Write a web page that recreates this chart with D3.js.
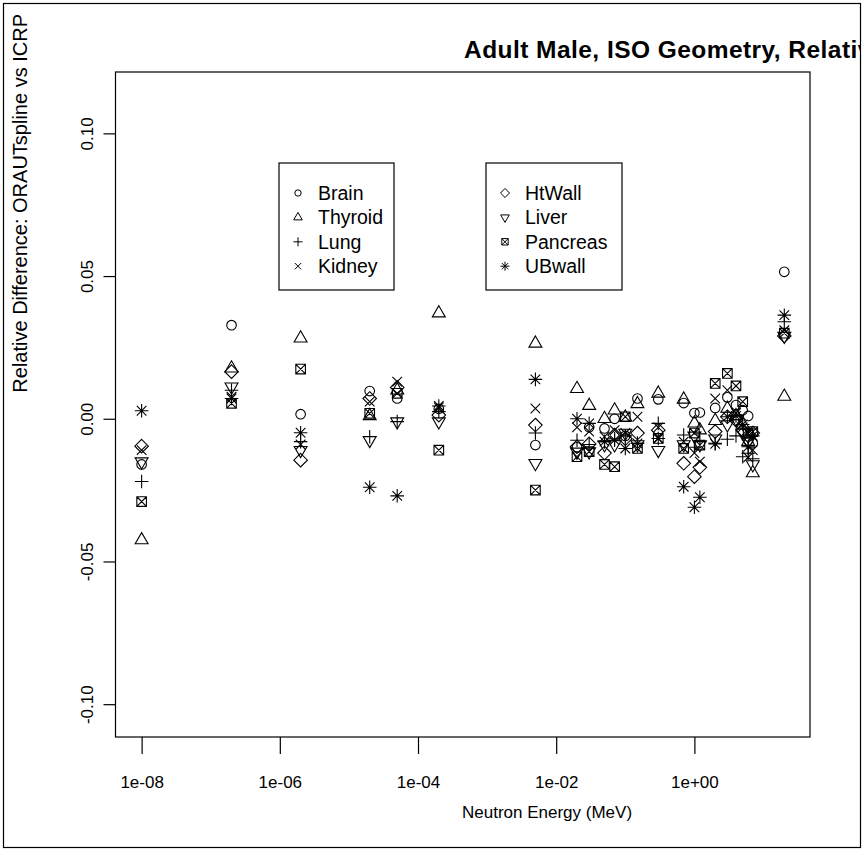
<!DOCTYPE html>
<html>
<head>
<meta charset="utf-8">
<script src="https://cdn.jsdelivr.net/npm/d3@7"></script>
<style>
  body { margin: 0; background: #fff; }
  svg { font-family: "Liberation Sans", Arial, sans-serif; }
</style>
</head>
<body>
<svg id="grafica" width="865" height="851"></svg>
<script>
// energies (MeV) and relative differences
var energies = [1e-8, 2e-7, 2e-6, 2e-5, 5e-5, 2e-4, 5e-3, 0.02, 0.03, 0.05, 0.07, 0.1, 0.15, 0.3, 0.7, 1, 1.2, 2, 3, 4, 5, 6, 7, 20];

var brain    = [-0.016, 0.0328, 0.0016, 0.0097, 0.0071, 0.0035, -0.0092, -0.010, -0.003, -0.0034, 0.000, -0.006, 0.0071, 0.0068, 0.0055, 0.002, 0.0022, 0.0038, 0.0075, 0.0048, 0.003, 0.001, -0.0086, 0.0515];
var thyroid  = [-0.0425, 0.0177, 0.0282, 0.001, 0.010, 0.037, 0.0264, 0.0105, 0.0046, 0.000, 0.003, 0.0005, 0.0052, 0.0089, 0.0068, -0.0016, -0.004, -0.0007, 0.0036, 0.001, -0.002, -0.008, -0.019, 0.0078];
var lung     = [-0.022, 0.010, -0.008, -0.0063, -0.001, 0.0025, -0.005, -0.0075, -0.009, -0.008, -0.007, -0.006, -0.0086, -0.0016, -0.0057, -0.010, -0.008, -0.0086, -0.0072, -0.006, -0.0133, -0.0121, -0.014, 0.034];
var kidney   = [-0.011, 0.0077, -0.009, 0.006, 0.013, 0.004, 0.0036, -0.003, -0.0045, -0.0063, -0.004, -0.005, 0.0007, -0.003, -0.008, -0.012, -0.015, 0.0071, 0.010, 0.002, -0.003, -0.0135, -0.011, 0.031];
var htwall   = [-0.0096, 0.0165, -0.0145, 0.0071, 0.011, 0.0013, -0.0022, -0.0098, -0.0088, -0.012, -0.0057, -0.007, -0.005, -0.004, -0.0156, -0.0203, -0.017, -0.0045, 0.0007, -0.0005, -0.004, -0.006, -0.005, 0.029];
var liver    = [-0.015, 0.0112, -0.011, -0.0075, -0.001, -0.001, -0.0156, -0.0116, -0.0115, -0.009, -0.009, -0.005, -0.009, -0.011, -0.009, -0.006, -0.009, -0.007, -0.002, 0.000, -0.005, -0.008, -0.016, 0.029];
var pancreas = [-0.029, 0.0054, 0.0174, 0.0019, 0.0089, -0.011, -0.025, -0.0133, -0.0115, -0.016, -0.0168, 0.0007, -0.0104, -0.0069, -0.0104, -0.005, -0.0092, 0.0124, 0.0159, 0.0115, 0.006, -0.005, -0.0045, 0.030];
var ubwall   = [0.0028, 0.0071, -0.0049, -0.024, -0.027, 0.0045, 0.0138, 0.000, -0.0016, -0.008, -0.0075, -0.0104, -0.0086, -0.0069, -0.0238, -0.031, -0.0275, -0.0088, 0.0007, 0.001, -0.002, -0.0098, -0.006, 0.0363];

var organs = ["Brain", "Thyroid", "Lung", "Kidney", "HtWall", "Liver", "Pancreas", "UBwall"];
var organValues = [brain, thyroid, lung, kidney, htwall, liver, pancreas, ubwall];
var organPch = [1, 2, 3, 4, 5, 6, 7, 8];

var xTicks = [1e-8, 1e-6, 1e-4, 1e-2, 1];
var xTickLabels = ["1e-08", "1e-06", "1e-04", "1e-02", "1e+00"];
var yTicks = [-0.10, -0.05, 0, 0.05, 0.10];
var yTickLabels = ["-0.10", "-0.05", "0.00", "0.05", "0.10"];

var svg = d3.select("#grafica"),
    box = {left: 115.5, right: 810, top: 72, bottom: 737};

var x = d3.scaleLog()
    .domain([Math.pow(10, -8.378), Math.pow(10, 1.673)])
    .range([box.left, box.right]);

var y = d3.scaleLinear()
    .domain([-0.1115, 0.1215])
    .range([box.bottom, box.top]);

// R style plotting symbols (pch), u = base radius
function pchPath(pch, cx, cy, u) {
  var p = d3.path(), r, xc, yc;
  switch (pch) {
    case 1:
      p.moveTo(cx + u, cy); p.arc(cx, cy, u, 0, 2 * Math.PI); break;
    case 2:
      r = 1.5551 * u; xc = 1.3468 * u; yc = 0.7776 * u;
      p.moveTo(cx, cy - r); p.lineTo(cx + xc, cy + yc); p.lineTo(cx - xc, cy + yc); p.closePath(); break;
    case 3:
      r = Math.SQRT2 * u;
      p.moveTo(cx - r, cy); p.lineTo(cx + r, cy); p.moveTo(cx, cy - r); p.lineTo(cx, cy + r); break;
    case 4:
      p.moveTo(cx - u, cy - u); p.lineTo(cx + u, cy + u); p.moveTo(cx - u, cy + u); p.lineTo(cx + u, cy - u); break;
    case 5:
      r = Math.SQRT2 * u;
      p.moveTo(cx, cy - r); p.lineTo(cx + r, cy); p.lineTo(cx, cy + r); p.lineTo(cx - r, cy); p.closePath(); break;
    case 6:
      r = 1.5551 * u; xc = 1.3468 * u; yc = 0.7776 * u;
      p.moveTo(cx, cy + r); p.lineTo(cx + xc, cy - yc); p.lineTo(cx - xc, cy - yc); p.closePath(); break;
    case 7:
      p.rect(cx - u, cy - u, 2 * u, 2 * u);
      p.moveTo(cx - u, cy - u); p.lineTo(cx + u, cy + u); p.moveTo(cx - u, cy + u); p.lineTo(cx + u, cy - u); break;
    case 8:
      r = Math.SQRT2 * u;
      p.moveTo(cx - r, cy); p.lineTo(cx + r, cy); p.moveTo(cx, cy - r); p.lineTo(cx, cy + r);
      p.moveTo(cx - u, cy - u); p.lineTo(cx + u, cy + u); p.moveTo(cx - u, cy + u); p.lineTo(cx + u, cy - u); break;
  }
  return p.toString();
}

// outer frame
svg.append("rect")
    .attr("x", 3.5).attr("y", 3.5)
    .attr("width", 857).attr("height", 844)
    .attr("fill", "none").attr("stroke", "#000").attr("stroke-width", 1.2);

svg.append("clipPath").attr("id", "frameClip")
  .append("rect").attr("x", 4).attr("y", 4).attr("width", 856).attr("height", 843);

// title (cut by the frame, as in the original)
svg.append("text")
    .attr("clip-path", "url(#frameClip)")
    .attr("x", 464).attr("y", 58)
    .attr("font-size", 24.5).attr("font-weight", "bold")
    .attr("letter-spacing", 0.45)
    .text("Adult Male, ISO Geometry, Relative Difference");

// plot box
svg.append("rect")
    .attr("x", box.left).attr("y", box.top)
    .attr("width", box.right - box.left).attr("height", box.bottom - box.top)
    .attr("fill", "none").attr("stroke", "#000").attr("stroke-width", 1.2);

// x axis
var xAxis = svg.append("g")
    .attr("transform", `translate(0,${box.bottom})`)
    .call(d3.axisBottom(x).tickValues(xTicks)
      .tickFormat((d, i) => xTickLabels[i]).tickSize(17).tickPadding(22));
xAxis.select(".domain").remove();
xAxis.selectAll("line").attr("stroke-width", 1.2);
xAxis.selectAll("text").attr("font-size", 17).attr("font-family", null).attr("fill", "#000");

// y axis, labels parallel to axis
var yAxis = svg.append("g")
    .attr("transform", `translate(${box.left},0)`)
    .call(d3.axisLeft(y).tickValues(yTicks)
      .tickFormat((d, i) => yTickLabels[i]).tickSize(12));
yAxis.select(".domain").remove();
yAxis.selectAll("line").attr("stroke-width", 1.2);
yAxis.selectAll("text")
    .attr("font-size", 17).attr("font-family", null).attr("fill", "#000")
    .attr("x", null).attr("dy", null)
    .attr("text-anchor", "middle")
    .attr("transform", "translate(-23,0) rotate(-90)");

// axis titles
svg.append("text")
    .attr("x", 462).attr("y", 818)
    .attr("font-size", 17)
    .text("Neutron Energy (MeV)");

svg.append("text")
    .attr("transform", "translate(27,14) rotate(-90)")
    .attr("text-anchor", "end")
    .attr("font-size", 20)
    .text("Relative Difference: ORAUTspline vs ICRP");

// points
var points = [];
organValues.forEach(function(vals, k) {
  vals.forEach(function(v, i) {
    points.push({organ: organs[k], pch: organPch[k], e: energies[i], value: v});
  });
});

svg.append("g").selectAll("path")
  .data(points)
  .enter().append("path")
    .attr("d", d => pchPath(d.pch, x(d.e), y(d.value), 4.8))
    .attr("fill", "none")
    .attr("stroke", "#000")
    .attr("stroke-width", 1.1);

// legends
var legendBoxes = [
  {x: 279, y: 163, w: 115, h: 127, items: [0, 1, 2, 3]},
  {x: 486, y: 163, w: 136, h: 127, items: [4, 5, 6, 7]}
];

legendBoxes.forEach(function(lb) {
  var g = svg.append("g");
  g.append("rect")
      .attr("x", lb.x).attr("y", lb.y).attr("width", lb.w).attr("height", lb.h)
      .attr("fill", "#fff").attr("stroke", "#000").attr("stroke-width", 1.2);
  lb.items.forEach(function(k, j) {
    var cy = lb.y + 30 + j * 24.4;
    g.append("path")
        .attr("d", pchPath(organPch[k], lb.x + 19, cy, 3.2))
        .attr("fill", "none").attr("stroke", "#000").attr("stroke-width", 1);
    g.append("text")
        .attr("x", lb.x + 39).attr("y", cy + 6.8)
        .attr("font-size", 19.5)
        .text(organs[k]);
  });
});
</script>
</body>
</html>
